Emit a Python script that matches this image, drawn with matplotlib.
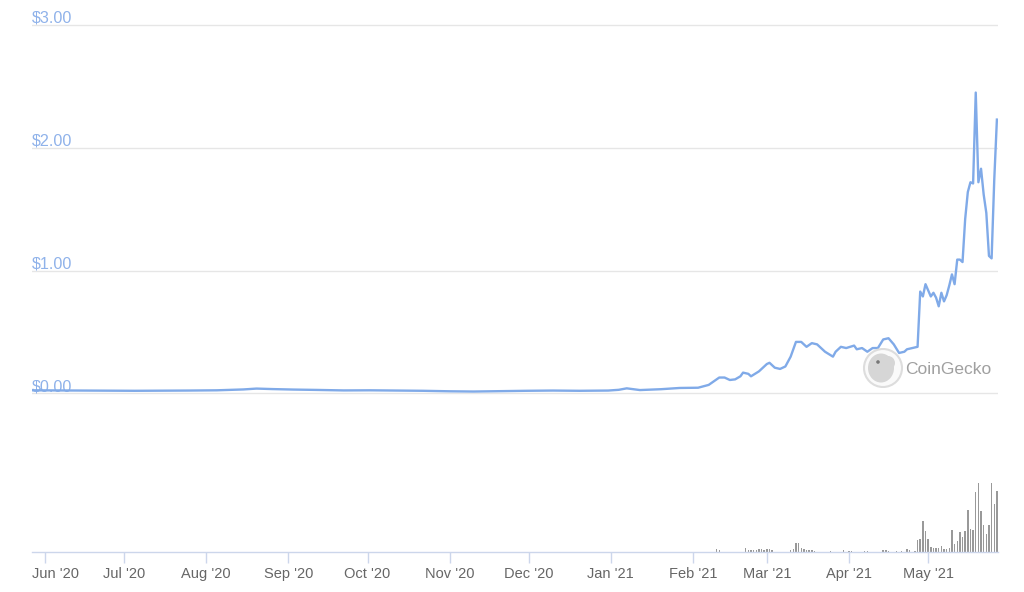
import numpy as np
import pandas as pd
import matplotlib
matplotlib.use("Agg")
import matplotlib.pyplot as plt
import matplotlib.dates as mdates
from matplotlib.patches import Circle, Ellipse

plt.rcParams['font.family'] = ['Liberation Sans', 'DejaVu Sans']

# price (USD)
price_dates = [
    "2020-05-27", "2020-06-05", "2020-06-15", "2020-06-25", "2020-07-05",
    "2020-07-15", "2020-07-25", "2020-08-05", "2020-08-15", "2020-08-20",
    "2020-08-26", "2020-09-03", "2020-09-12", "2020-09-22", "2020-10-02",
    "2020-10-12", "2020-10-22", "2020-11-01", "2020-11-10", "2020-11-20",
    "2020-11-30", "2020-12-10", "2020-12-20", "2020-12-31", "2021-01-04",
    "2021-01-07", "2021-01-12", "2021-01-20", "2021-01-27", "2021-02-03",
    "2021-02-07", "2021-02-11", "2021-02-13", "2021-02-15", "2021-02-17",
    "2021-02-19", "2021-02-20", "2021-02-22", "2021-02-23", "2021-02-26",
    "2021-03-01", "2021-03-02", "2021-03-04", "2021-03-06", "2021-03-08",
    "2021-03-10", "2021-03-12", "2021-03-14", "2021-03-16", "2021-03-18",
    "2021-03-20", "2021-03-23", "2021-03-26", "2021-03-27", "2021-03-29",
    "2021-03-31", "2021-04-03", "2021-04-04", "2021-04-06", "2021-04-08",
    "2021-04-10", "2021-04-12", "2021-04-14", "2021-04-16", "2021-04-18",
    "2021-04-20", "2021-04-22", "2021-04-23", "2021-04-25", "2021-04-27",
    "2021-04-28", "2021-04-29", "2021-04-30", "2021-05-01", "2021-05-02",
    "2021-05-03", "2021-05-04", "2021-05-05", "2021-05-06", "2021-05-07",
    "2021-05-08", "2021-05-09", "2021-05-10", "2021-05-11", "2021-05-12",
    "2021-05-13", "2021-05-14", "2021-05-15", "2021-05-16", "2021-05-17",
    "2021-05-18", "2021-05-19", "2021-05-20", "2021-05-21", "2021-05-22",
    "2021-05-23", "2021-05-24", "2021-05-25", "2021-05-26", "2021-05-27",
]
price_values = [
    0.026, 0.025, 0.024, 0.023, 0.022,
    0.023, 0.024, 0.026, 0.033, 0.040,
    0.036, 0.032, 0.029, 0.025, 0.026,
    0.024, 0.022, 0.018, 0.016, 0.019,
    0.022, 0.024, 0.022, 0.024, 0.030,
    0.042, 0.028, 0.035, 0.045, 0.047,
    0.07, 0.13, 0.13, 0.11, 0.115,
    0.14, 0.17, 0.16, 0.14, 0.18,
    0.24, 0.25, 0.21, 0.20, 0.22,
    0.30, 0.42, 0.42, 0.38, 0.41,
    0.40, 0.34, 0.30, 0.34, 0.38,
    0.37, 0.39, 0.36, 0.37, 0.34,
    0.37, 0.37, 0.44, 0.45, 0.40,
    0.33, 0.34, 0.36, 0.37, 0.38,
    0.83, 0.79, 0.89, 0.84, 0.79,
    0.82, 0.78, 0.71, 0.82, 0.75,
    0.80, 0.88, 0.97, 0.89, 1.09,
    1.09, 1.07, 1.42, 1.64, 1.72,
    1.71, 2.45, 1.72, 1.83, 1.62,
    1.47, 1.12, 1.10, 1.74, 2.23,
]

# trading volume (relative units)
volume_dates = [
    "2021-02-10", "2021-02-11", "2021-02-21", "2021-02-22", "2021-02-23",
    "2021-02-24", "2021-02-25", "2021-02-26", "2021-02-27", "2021-02-28",
    "2021-03-01", "2021-03-02", "2021-03-03", "2021-03-10", "2021-03-11",
    "2021-03-12", "2021-03-13", "2021-03-14", "2021-03-15", "2021-03-16",
    "2021-03-17", "2021-03-18", "2021-03-19", "2021-03-25", "2021-03-30",
    "2021-04-01", "2021-04-02", "2021-04-07", "2021-04-08", "2021-04-14",
    "2021-04-15", "2021-04-16", "2021-04-19", "2021-04-21", "2021-04-23",
    "2021-04-24", "2021-04-26", "2021-04-27", "2021-04-28", "2021-04-29",
    "2021-04-30", "2021-05-01", "2021-05-02", "2021-05-03", "2021-05-04",
    "2021-05-05", "2021-05-06", "2021-05-07", "2021-05-08", "2021-05-09",
    "2021-05-10", "2021-05-11", "2021-05-12", "2021-05-13", "2021-05-14",
    "2021-05-15", "2021-05-16", "2021-05-17", "2021-05-18", "2021-05-19",
    "2021-05-20", "2021-05-21", "2021-05-22", "2021-05-23", "2021-05-24",
    "2021-05-25", "2021-05-26", "2021-05-27",
]
volume_values = [
    2.3, 1.5, 4, 2, 1.5,
    1.5, 2, 3, 2.5, 1.5,
    3, 2.5, 1.5, 2, 3,
    9, 9, 4, 2.5, 1.5,
    2, 2, 1, 1, 1.2,
    1, 0.8, 0.8, 0.8, 2,
    1.5, 1, 0.5, 0.5, 2.7,
    1.5, 0.5, 12, 13, 31,
    21, 13, 5, 4, 4,
    4, 6, 3, 3, 4,
    22, 8, 11, 20, 15,
    21, 42, 23, 22, 60,
    69, 41, 27, 18, 27,
    69, 48, 61,
]

month_ticks = pd.date_range("2020-06-01", "2021-05-01", freq="MS")
month_labels = [d.strftime("%b '%y") for d in month_ticks]
x_left = pd.Timestamp("2020-05-27 02:00")
x_right = pd.Timestamp("2021-05-27 10:00")

line_color = "#80aae8"
grid_color = "#e6e6e6"
axis_color = "#ccd6eb"

W, H = 1024, 592
fig = plt.figure(figsize=(W / 100, H / 100), dpi=100)

# price panel
ax = fig.add_axes([32 / W, (H - 400) / H, 966 / W, 381 / H])
ax.set_xlim(x_left, x_right)
ax.set_ylim(-(400 - 393.5) / 122.8, 3 + (25 - 19) / 122.8)
for v in [0, 1, 2, 3]:
    ax.axhline(v, color=grid_color, lw=1, zorder=1)
    ax.annotate(f"${v:.2f}", xy=(0, v), xycoords=ax.get_yaxis_transform(),
                xytext=(0, 1.5), textcoords="offset points",
                ha="left", va="baseline", fontsize=11.6, color="#8fb2ea")
ax.plot(pd.to_datetime(price_dates), price_values, color=line_color, lw=1.7, zorder=3)
ax.axis("off")

# CoinGecko watermark
wm = fig.add_axes([862 / W, (H - 388) / H, 42 / W, 40 / H])
wm.set_xlim(-1.05, 1.05)
wm.set_ylim(-1.0, 1.0)
wm.set_aspect("equal")
wm.add_patch(Circle((0, 0), 0.95, fc="#fafafa", ec="#dddddd", lw=1.5))
wm.add_patch(Ellipse((-0.1, 0.0), 1.3, 1.45, fc="#d6d6d6", ec="none"))
wm.add_patch(Circle((0.25, 0.25), 0.35, fc="#d6d6d6", ec="none"))
wm.add_patch(Circle((-0.25, 0.3), 0.09, fc="#777777", ec="none"))
wm.axis("off")
fig.text(905 / W, 1 - 369 / H, "CoinGecko", fontsize=12.5, color="#a0a0a0",
         ha="left", va="center")

# volume panel
vax = fig.add_axes([32 / W, (H - 551.5) / H, 966 / W, 70 / H])
vax.set_xlim(x_left, x_right)
vax.set_ylim(0, 70)
vax.bar(pd.to_datetime(volume_dates), volume_values, width=0.55,
        color="#999999", align="center")
for side in ["top", "left", "right"]:
    vax.spines[side].set_visible(False)
vax.spines["bottom"].set_color(axis_color)
vax.spines["bottom"].set_linewidth(1)
vax.set_yticks([])
tick_len, tick_pad = 8, 3
vax.set_xticks(month_ticks)
# first label is pushed right to stay inside the plot, like the original
vax.set_xticklabels([""] + month_labels[1:])
vax.tick_params(axis="x", length=tick_len, width=1, color=axis_color,
                labelcolor="#666666", labelsize=10.5, pad=tick_pad)
vax.annotate(month_labels[0], xy=(0, 0), xycoords="axes fraction",
             xytext=(0, -(tick_len + tick_pad)), textcoords="offset points",
             ha="left", va="top", fontsize=10.5, color="#666666")
vax.patch.set_alpha(0)

fig.savefig("out.png", dpi=100, facecolor="white")
